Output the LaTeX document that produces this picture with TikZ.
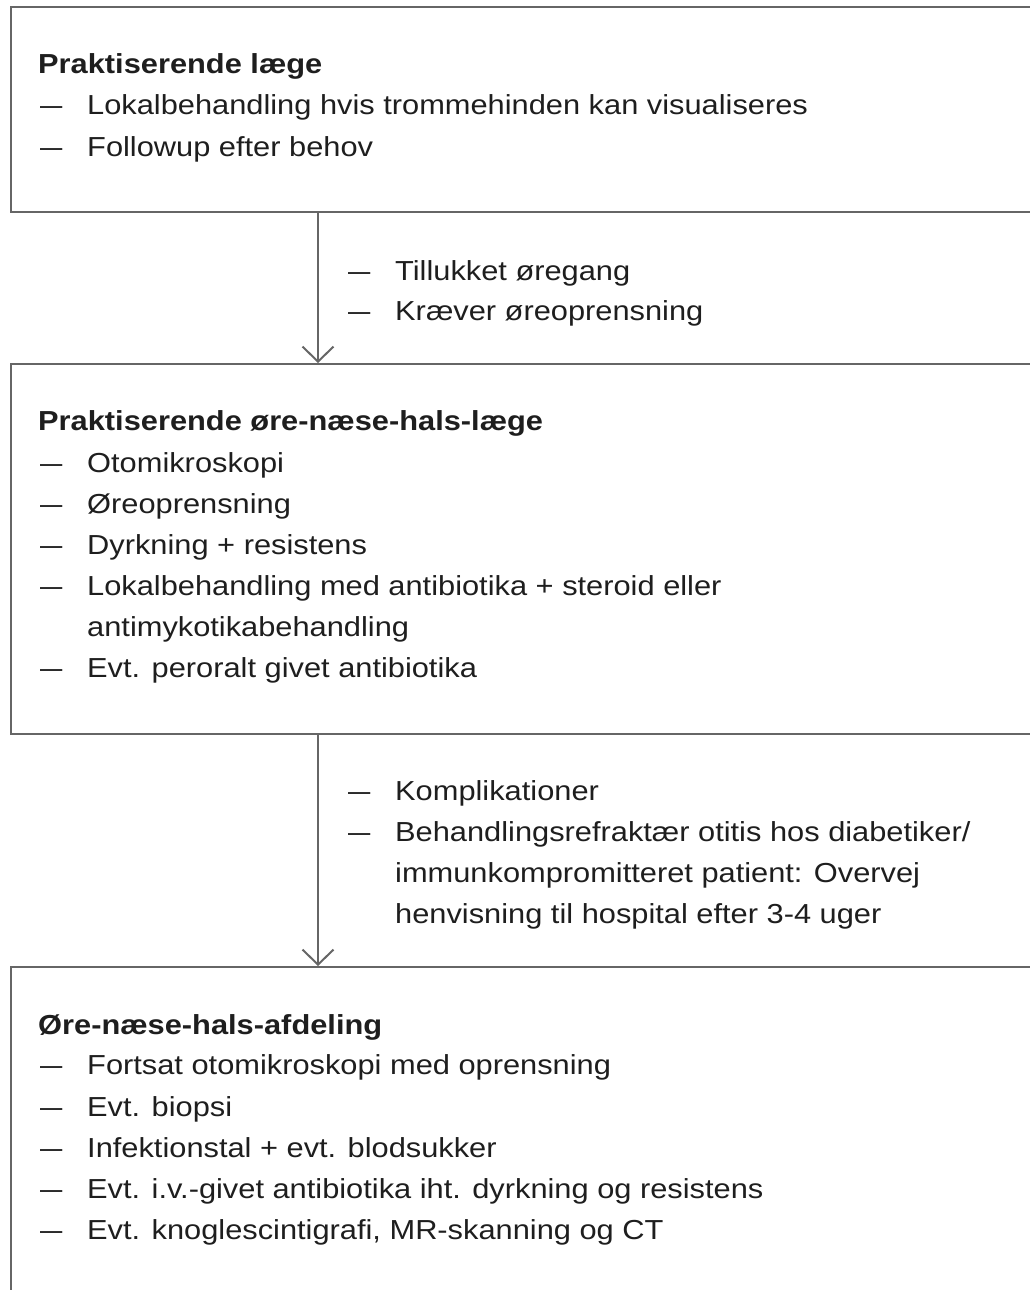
\documentclass[tikz,border=0pt]{standalone}
\usepackage{fontspec}
\setmainfont{Liberation Sans}[FakeStretch=1.12]
\usetikzlibrary{arrows.meta}
\definecolor{linegray}{HTML}{666666}
\definecolor{txt}{HTML}{1E1E1E}
\tikzset{
  box/.style={draw=linegray, line width=2pt, anchor=north west, inner sep=0pt},
  arr/.style={draw=linegray, line width=2pt, -{Straight Barb[length=15pt,width=31pt,line width=2pt]}},
  tx/.style={anchor=base west, inner sep=0pt, text=txt, font=\fontsize{27.5pt}{33pt}\selectfont},
  hd/.style={tx, font=\fontsize{27.5pt}{33pt}\selectfont\bfseries},
}
\newcommand{\dsh}{\scalebox{1.3}[1]{–}}
\begin{document}
\begin{tikzpicture}[x=1pt,y=-1pt]
\useasboundingbox (0,0) rectangle (1030,1290);
\clip (0,0) rectangle (1030,1290);
% boxes
\node[box, minimum width=1040pt, minimum height=205pt] (b1) at (10,6) {};
\node[box, minimum width=1040pt, minimum height=370pt] (b2) at (10,363) {};
\node[box, minimum width=1040pt, minimum height=340pt] (b3) at (10,966) {};
\coordinate (ax) at (318,0);
\draw[arr] (b1.south -| ax) -- (b2.north -| ax);
\draw[arr] (b2.south -| ax) -- (b3.north -| ax);
% box 1
\node[hd] (h1) at (38,74) {Praktiserende læge};
\node[tx] (d11) at (40,114) {\dsh}; \node[tx] (t11) at (87,114) {Lokalbehandling hvis trommehinden kan visualiseres};
\node[tx] (d12) at (40,156) {\dsh}; \node[tx] (t12) at (87,156) {Followup efter behov};
% arrow 1 labels
\node[tx] (d21) at (348,280) {\dsh}; \node[tx] (t21) at (395,280) {Tillukket øregang};
\node[tx] (d22) at (348,320) {\dsh}; \node[tx] (t22) at (395,320) {Kræver øreoprensning};
% box 2
\node[hd] (h2) at (38,430) {Praktiserende øre-næse-hals-læge};
\node[tx] (d31) at (40,472) {\dsh}; \node[tx] (t31) at (87,472) {Otomikroskopi};
\node[tx] (d32) at (40,513) {\dsh}; \node[tx] (t32) at (87,513) {Øreoprensning};
\node[tx] (d33) at (40,554) {\dsh}; \node[tx] (t33) at (87,554) {Dyrkning + resistens};
\node[tx] (d34) at (40,595) {\dsh}; \node[tx] (t34) at (87,595) {Lokalbehandling med antibiotika + steroid eller};
\node[tx] (t34b) at (87,636) {antimykotikabehandling};
\node[tx] (d35) at (40,677) {\dsh}; \node[tx] (t35) at (87,677) {Evt. peroralt givet antibiotika};
% arrow 2 labels
\node[tx] (d41) at (348,800) {\dsh}; \node[tx] (t41) at (395,800) {Komplikationer};
\node[tx] (d42) at (348,841) {\dsh}; \node[tx] (t42) at (395,841) {Behandlingsrefraktær otitis hos diabetiker/};
\node[tx] (t42b) at (395,882) {immunkompromitteret patient: Overvej};
\node[tx] (t42c) at (395,923) {henvisning til hospital efter 3-4 uger};
% box 3
\node[hd] (h3) at (38,1034) {Øre-næse-hals-afdeling};
\node[tx] (d51) at (40,1074) {\dsh}; \node[tx] (t51) at (87,1074) {Fortsat otomikroskopi med oprensning};
\node[tx] (d52) at (40,1116) {\dsh}; \node[tx] (t52) at (87,1116) {Evt. biopsi};
\node[tx] (d53) at (40,1157) {\dsh}; \node[tx] (t53) at (87,1157) {Infektionstal + evt. blodsukker};
\node[tx] (d54) at (40,1198) {\dsh}; \node[tx] (t54) at (87,1198) {Evt. i.v.-givet antibiotika iht. dyrkning og resistens};
\node[tx] (d55) at (40,1239) {\dsh}; \node[tx] (t55) at (87,1239) {Evt. knoglescintigrafi, MR-skanning og CT};
\end{tikzpicture}
\end{document}
